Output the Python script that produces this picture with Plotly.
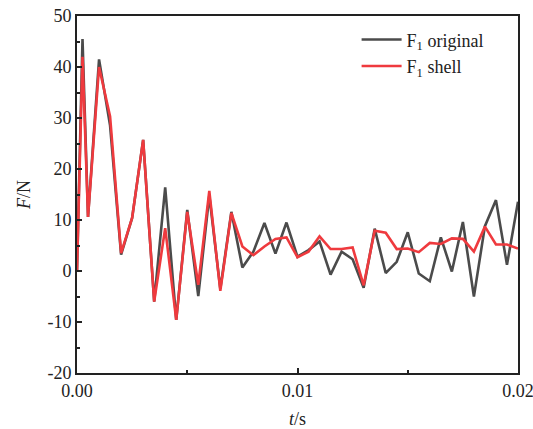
import plotly.graph_objects as go

# time (s)
t = [0.0, 0.00025, 0.0005, 0.0010, 0.0015, 0.0020, 0.0025, 0.0030, 0.0035, 0.0040,
     0.0045, 0.0050, 0.0055, 0.0060, 0.0065, 0.0070, 0.0075, 0.0080, 0.0085, 0.0090,
     0.0095, 0.0100, 0.0105, 0.0110, 0.0115, 0.0120, 0.0125, 0.0130, 0.0135, 0.0140,
     0.0145, 0.0150, 0.0155, 0.0160, 0.0165, 0.0170, 0.0175, 0.0180, 0.0185, 0.0190,
     0.0195, 0.0200]

f1_original = [0.0, 45.5, 10.6, 41.5, 28.5, 3.2, 10.4, 25.7, -6.0, 16.4,
               -9.6, 12.0, -4.9, 14.8, -3.5, 11.6, 0.7, 3.8, 9.4, 3.4,
               9.5, 2.8, 4.1, 5.8, -0.7, 3.8, 2.3, -3.3, 8.3, -0.4,
               1.8, 7.6, -0.5, -2.0, 6.6, -0.1, 9.6, -5.0, 8.8, 13.9,
               1.2, 13.6]

f1_shell = [0.0, 42.0, 10.6, 40.0, 30.3, 3.5, 10.4, 25.7, -6.0, 8.4,
            -9.6, 11.6, -2.7, 15.7, -3.9, 11.4, 4.8, 3.1, 4.8, 6.3,
            6.6, 2.7, 3.8, 6.8, 4.3, 4.3, 4.6, -2.8, 7.9, 7.5,
            4.3, 4.4, 3.7, 5.5, 5.3, 6.4, 6.3, 3.8, 8.7, 5.2,
            5.2, 4.4]

x_ticks = [0.0, 0.01, 0.02]
x_tick_labels = ["0.00", "0.01", "0.02"]
y_ticks = [-20, -10, 0, 10, 20, 30, 40, 50]
y_tick_labels = ["-20", "-10", "0", "10", "20", "30", "40", "50"]

FONT = "Liberation Serif"
INK = "#222222"

fig = go.Figure()
fig.add_trace(go.Scatter(x=t, y=f1_original, mode="lines", name="F<sub>1</sub> original",
                         line=dict(color="#4b4b4b", width=2.6)))
fig.add_trace(go.Scatter(x=t, y=f1_shell, mode="lines", name="F<sub>1</sub> shell",
                         line=dict(color="#ef3a3e", width=2.6)))

axis_common = dict(
    showline=True, linecolor=INK, linewidth=2, mirror=True,
    ticks="inside", ticklen=5, tickwidth=1.5, tickcolor=INK,
    showgrid=False, zeroline=False, automargin=False,
    ticklabeloverflow="allow",
    tickfont=dict(family=FONT, size=18, color=INK),
)

fig.update_xaxes(range=[0, 0.02], tickvals=x_ticks, ticktext=x_tick_labels,
                 minor=dict(ticks="inside", ticklen=3, tickwidth=1.5, tickcolor=INK, dtick=0.005),
                 title=dict(text="<i>t</i>/s", font=dict(family=FONT, size=18, color=INK), standoff=14),
                 **axis_common)
fig.update_yaxes(range=[-20, 50], tickvals=y_ticks, ticktext=y_tick_labels,
                 minor=dict(ticks="inside", ticklen=3, tickwidth=1.5, tickcolor=INK, dtick=5),
                 title=dict(text="<i>F</i>/N", font=dict(family=FONT, size=18, color=INK), standoff=12),
                 **axis_common)

fig.update_layout(
    width=533, height=429,
    margin=dict(l=77, r=15, t=16, b=56),
    paper_bgcolor="white", plot_bgcolor="white",
    font=dict(family=FONT, size=18, color=INK),
    legend=dict(x=0.634, y=0.985, xanchor="left", yanchor="top",
                bgcolor="rgba(0,0,0,0)", borderwidth=0,
                font=dict(family=FONT, size=18, color=INK),
                itemwidth=40, tracegroupgap=2),
    showlegend=True,
)

fig.write_html("out.html")
